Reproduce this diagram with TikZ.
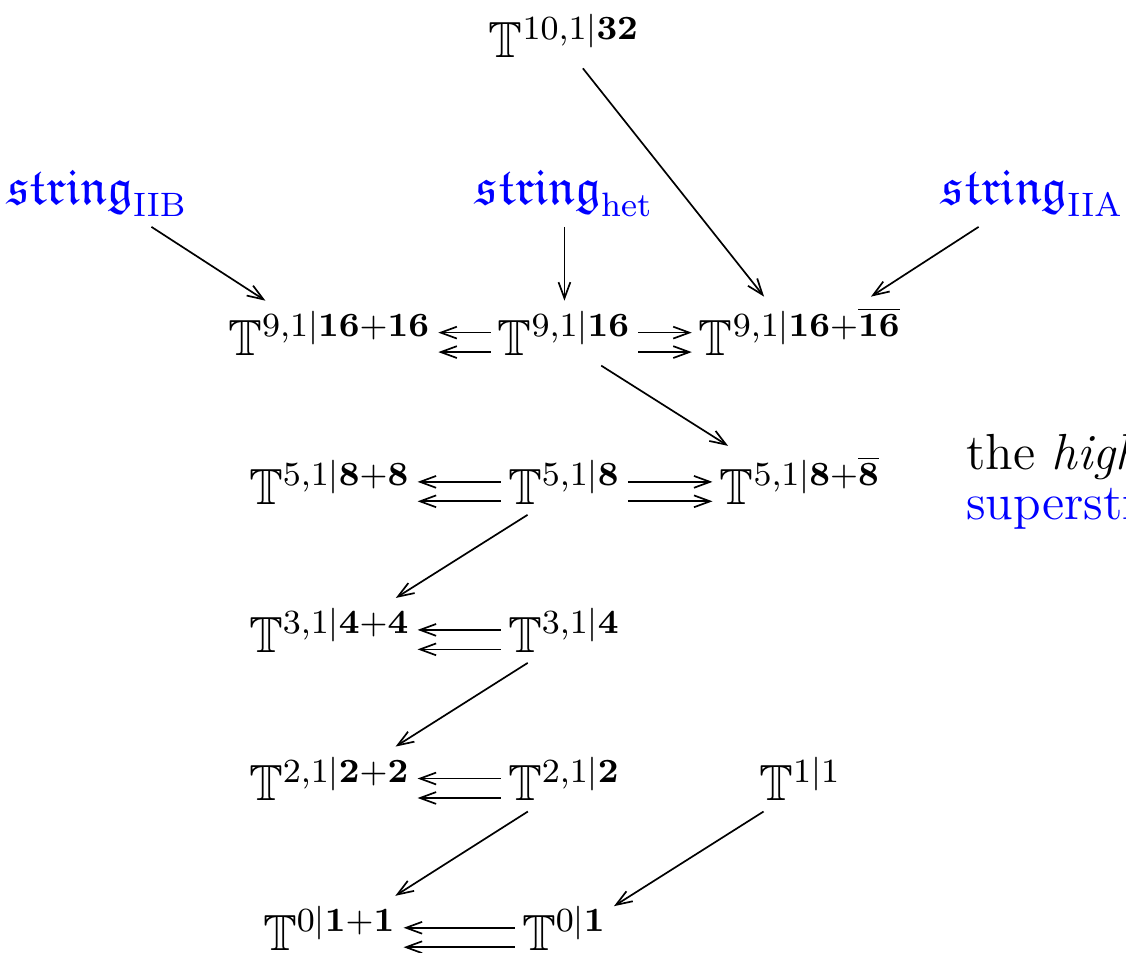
\documentclass[12pt,tikz,border=0pt]{standalone}
\usepackage{amsmath,amssymb}
\usepackage{xcolor}
\usepackage{tikz}
\usetikzlibrary{arrows.meta,cd}

\begin{document}
\begin{tikzpicture}[
  obj/.style={shape=asymmetrical rectangle,anchor=base,inner xsep=1.5pt,inner ysep=2.3pt},
  ext/.style={obj,text=blue},
  arr/.style={-{Straight Barb[length=3.8pt,width=2.8pt]},line width=0.4pt}]
  \useasboundingbox (0,0) rectangle (9.356,-7.918);
  \clip (0,0) rectangle (9.356,-7.918);
  % top and the string extensions
  \node[obj] (t10) at (4.69,-0.48) {$\mathbb{T}^{10,1|\mathbf{32}}$};
  \node[ext] (sIIB) at (0.81,-1.70) {$\mathfrak{string}_{\mathrm{IIB}}$};
  \node[ext] (shet) at (4.69,-1.70) {$\mathfrak{string}_{\mathrm{het}}$};
  \node[ext] (sIIA) at (8.58,-1.70) {$\mathfrak{string}_{\mathrm{IIA}}$};
  % the super-Minkowski spacetimes
  \node[obj] (l9) at (2.74,-2.95) {$\mathbb{T}^{9,1|\mathbf{16}+\mathbf{16}}$};
  \node[obj] (m9) at (4.69,-2.95) {$\mathbb{T}^{9,1|\mathbf{16}}$};
  \node[obj] (r9) at (6.65,-2.95) {$\mathbb{T}^{9,1|\mathbf{16}+\overline{\mathbf{16}}}$};
  \node[obj] (l5) at (2.74,-4.19) {$\mathbb{T}^{5,1|\mathbf{8}+\mathbf{8}}$};
  \node[obj] (m5) at (4.69,-4.19) {$\mathbb{T}^{5,1|\mathbf{8}}$};
  \node[obj] (r5) at (6.65,-4.19) {$\mathbb{T}^{5,1|\mathbf{8}+\overline{\mathbf{8}}}$};
  \node[obj] (l3) at (2.74,-5.42) {$\mathbb{T}^{3,1|\mathbf{4}+\mathbf{4}}$};
  \node[obj] (m3) at (4.69,-5.42) {$\mathbb{T}^{3,1|\mathbf{4}}$};
  \node[obj] (l2) at (2.74,-6.655) {$\mathbb{T}^{2,1|\mathbf{2}+\mathbf{2}}$};
  \node[obj] (m2) at (4.69,-6.655) {$\mathbb{T}^{2,1|\mathbf{2}}$};
  \node[obj] (r1) at (6.65,-6.655) {$\mathbb{T}^{1|1}$};
  \node[obj] (l0) at (2.74,-7.895) {$\mathbb{T}^{0|\mathbf{1}+\mathbf{1}}$};
  \node[obj] (m0) at (4.69,-7.895) {$\mathbb{T}^{0|\mathbf{1}}$};
  % side text
  \node[obj,anchor=base west,inner sep=0pt] (txt1) at (8.02,-3.905) {the \emph{higher}};
  \node[ext,anchor=base west,inner sep=0pt] (txt2) at (8.02,-4.32) {superstrings};
  % arrows
  \draw[arr] (sIIB) -- (l9);
  \draw[arr] (shet) -- (m9);
  \draw[arr] (t10) -- (r9);
  \draw[arr] (sIIA) -- (r9);
  \draw[arr] (m9) -- (r5);
  \draw[arr] (m5) -- (l3);
  \draw[arr] (m3) -- (l2);
  \draw[arr] (m2) -- (l0);
  \draw[arr] (r1) -- (m0);
  % double arrows
  \draw[arr] ([yshift=5.3pt]m9.base west) -- ([yshift=5.3pt]l9.base east);
  \draw[arr] ([yshift=0.7pt]m9.base west) -- ([yshift=0.7pt]l9.base east);
  \draw[arr] ([yshift=5.3pt]m9.base east) -- ([yshift=5.3pt]r9.base west);
  \draw[arr] ([yshift=0.7pt]m9.base east) -- ([yshift=0.7pt]r9.base west);
  \draw[arr] ([yshift=5.3pt]m5.base west) -- ([yshift=5.3pt]l5.base east);
  \draw[arr] ([yshift=0.7pt]m5.base west) -- ([yshift=0.7pt]l5.base east);
  \draw[arr] ([yshift=5.3pt]m5.base east) -- ([yshift=5.3pt]r5.base west);
  \draw[arr] ([yshift=0.7pt]m5.base east) -- ([yshift=0.7pt]r5.base west);
  \draw[arr] ([yshift=5.3pt]m3.base west) -- ([yshift=5.3pt]l3.base east);
  \draw[arr] ([yshift=0.7pt]m3.base west) -- ([yshift=0.7pt]l3.base east);
  \draw[arr] ([yshift=5.3pt]m2.base west) -- ([yshift=5.3pt]l2.base east);
  \draw[arr] ([yshift=0.7pt]m2.base west) -- ([yshift=0.7pt]l2.base east);
  \draw[arr] ([yshift=5.3pt]m0.base west) -- ([yshift=5.3pt]l0.base east);
  \draw[arr] ([yshift=0.7pt]m0.base west) -- ([yshift=0.7pt]l0.base east);
\end{tikzpicture}
\end{document}
